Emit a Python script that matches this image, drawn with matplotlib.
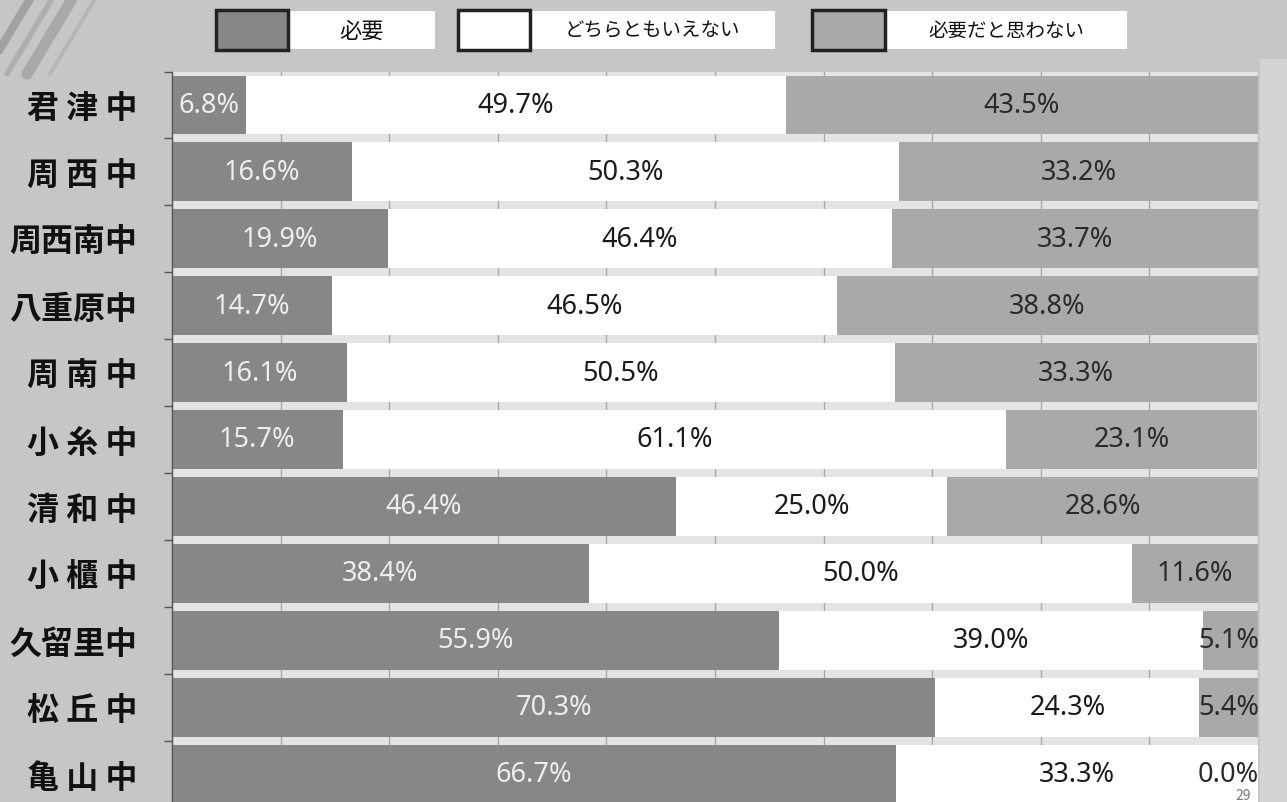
import matplotlib
matplotlib.use('Agg')
import matplotlib.pyplot as plt
from matplotlib.patches import Rectangle
import numpy as np

plt.rcParams['font.family'] = ['Noto Sans CJK JP', 'DejaVu Sans']

# ---- data ----
schools = ['君津中', '周西中', '周西南中', '八重原中', '周南中', '小糸中',
           '清和中', '小櫃中', '久留里中', '松丘中', '亀山中']
need = [6.8, 16.6, 19.9, 14.7, 16.1, 15.7, 46.4, 38.4, 55.9, 70.3, 66.7]
neutral = [49.7, 50.3, 46.4, 46.5, 50.5, 61.1, 25.0, 50.0, 39.0, 24.3, 33.3]
not_need = [43.5, 33.2, 33.7, 38.8, 33.3, 23.1, 28.6, 11.6, 5.1, 5.4, 0.0]
series_names = ['必要', 'どちらともいえない', '必要だと思わない']

# ---- styles ----
BG = '#c6c6c6'
PLOT_BG = '#e4e4e4'
colors = ['#878787', '#ffffff', '#a9a9a9']
text_colors = ['#eeeeee', '#1a1a1a', '#2a2a2a']

W, H = 1287, 803
fig = plt.figure(figsize=(W / 100, H / 100), dpi=100, facecolor=BG)

# background overlay (decorations, legend)
bg = fig.add_axes([0, 0, 1, 1], zorder=0)
bg.set_xlim(0, W)
bg.set_ylim(H, 0)
bg.axis('off')
bg.set_facecolor(BG)
# decorative swoosh top-left
for x0, lw, c in [(30, 6, '#9a9a9a'), (52, 4, '#a8a8a8'), (72, 8, '#a2a2a2'), (95, 3, '#b4b4b4')]:
    bg.plot([x0, x0 - 45], [0, 75], color=c, lw=lw, solid_capstyle='round', alpha=0.8)
bg.add_patch(Rectangle((1260, 60), 27, 743, facecolor='#d4d4d4', edgecolor='none'))

# main axes
left_px, right_px, top_px, bot_px = 172, 1258, 72.5, 808.5
ax = fig.add_axes([left_px / W, (H - bot_px) / H, (right_px - left_px) / W, (bot_px - top_px) / H], zorder=1)
ax.set_facecolor(PLOT_BG)

n = len(schools)
y = np.arange(n)
need_a = np.array(need)
neu_a = np.array(neutral)
not_a = np.array(not_need)
lefts = [np.zeros(n), need_a, need_a + neu_a]
vals = [need_a, neu_a, not_a]

ax.set_axisbelow(True)
ax.xaxis.grid(True, color='#a8a8a8', lw=1)
ax.set_xticks(np.arange(0, 101, 10))

for k in range(3):
    ax.barh(y, vals[k], left=lefts[k], height=0.88, color=colors[k],
            edgecolor='none', zorder=2)
    for i in range(n):
        cx = lefts[k][i] + vals[k][i] / 2
        cx = min(cx, 97.3)
        ax.text(cx, y[i], f'{vals[k][i]:.1f}%', ha='center', va='center',
                fontsize=19.5, color=text_colors[k], zorder=3,
                family=['Noto Sans', 'DejaVu Sans'])

ax.set_xlim(0, 100)
ax.set_ylim(n - 0.5, -0.5)
ax.set_yticks(y)
ax.set_yticklabels([' '.join(s) if len(s) == 3 else s for s in schools],
                   fontsize=23, fontweight='bold', color='#111111')
ax.set_yticks(np.arange(-0.5, n, 1), minor=True)
ax.tick_params(axis='y', which='major', length=0, pad=25)
ax.tick_params(axis='y', which='minor', length=6, color='#555555', width=1)
ax.tick_params(axis='x', which='both', length=0, labelbottom=False)
for s in ['top', 'right', 'bottom']:
    ax.spines[s].set_visible(False)
ax.spines['left'].set_color('#555555')
ax.spines['left'].set_linewidth(1)

# legend (drawn manually)
legend_geom = [(216, 288, 435), (458, 530, 775), (812, 885, 1127)]
for k, (sx, lx, rx) in enumerate(legend_geom):
    bg.add_patch(Rectangle((lx, 12), rx - lx, 38, facecolor='white', edgecolor='none'))
    bg.add_patch(Rectangle((sx, 11), lx - sx, 40, facecolor=colors[k],
                           edgecolor='#222222', lw=2.5))
    bg.text((lx + rx) / 2, 31, series_names[k], ha='center', va='center',
            fontsize=16 if k == 0 else 14, color='#111111')

# page number
fig.text(1243 / W, 1 - 789 / H, '29', ha='center', va='top', fontsize=10,
         color='#777777', zorder=10)

fig.savefig('out.png', dpi=100, facecolor=BG)
